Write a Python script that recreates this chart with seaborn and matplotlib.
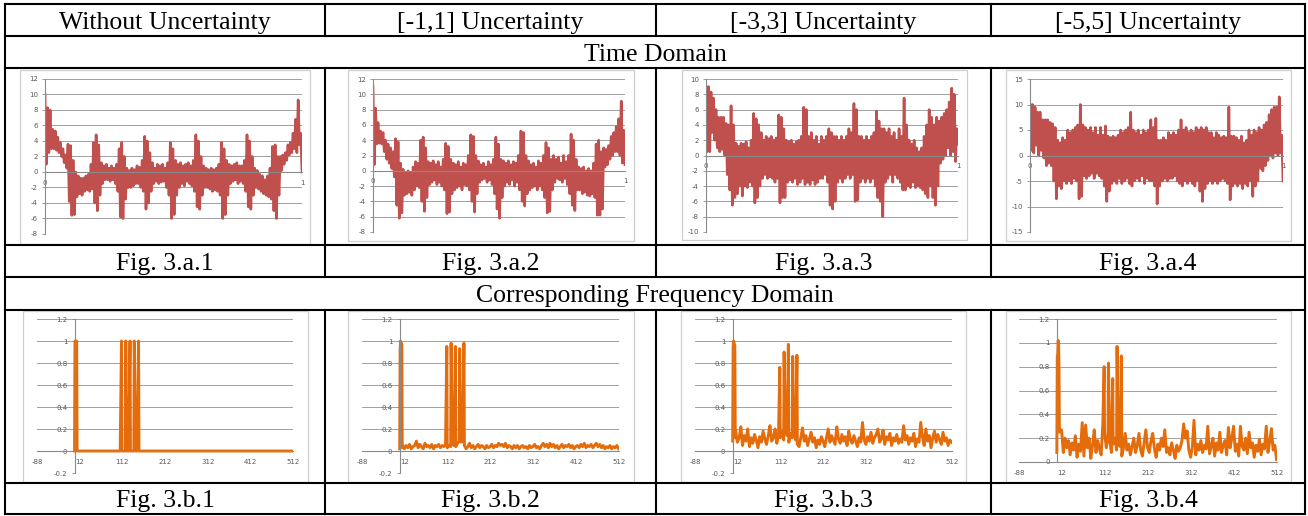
import numpy as np
import pandas as pd
import matplotlib
matplotlib.use("Agg")
import matplotlib.pyplot as plt
import seaborn as sns
from matplotlib.lines import Line2D
from matplotlib.patches import Rectangle

# ---------------------------------------------------------------- text
col_titles = ["Without Uncertainty", "[-1,1] Uncertainty", "[-3,3] Uncertainty", "[-5,5] Uncertainty"]
row_titles = ["Time Domain", "Corresponding Frequency Domain"]
time_captions = ["Fig. 3.a.1", "Fig. 3.a.2", "Fig. 3.a.3", "Fig. 3.a.4"]
freq_captions = ["Fig. 3.b.1", "Fig. 3.b.2", "Fig. 3.b.3", "Fig. 3.b.4"]

# ---------------------------------------------------------------- time domain data
# upper / lower swing of the signal in each 0.01 slot of t = 0 ... 1 (101 slots)
t1_hi = [10.0, 8.3, 8.0, 5.5, 5.3, 4.5, 3.8, 3.0, 2.2, 3.6,
         3.4, 1.5, 0.0, -0.5, -0.8, -0.8, -0.5, -0.3, 1.0, 3.8,
         4.8, 3.5, 1.2, 0.8, 1.0, 0.5, 0.8, 0.5, 1.0, 3.0,
         3.8, 2.0, 0.5, 0.2, 0.5, 0.3, 0.8, 0.6, 1.5, 4.6,
         4.0, 2.5, 1.2, 0.5, 1.0, 0.8, 1.0, 0.5, 1.2, 3.8,
         3.0, 1.5, 1.0, 1.2, 0.8, 1.0, 1.2, 0.8, 1.5, 4.8,
         4.0, 2.0, 0.8, 0.5, 0.3, 0.5, 0.3, 0.5, 1.0, 3.8,
         3.0, 1.5, 1.0, 0.8, 1.0, 1.2, 0.8, 0.8, 1.5, 4.8,
         4.0, 2.0, 0.5, 0.2, -0.3, -0.5, -1.0, -0.5, 0.5, 3.3,
         3.5, 2.0, 2.0, 2.2, 2.5, 3.5, 3.8, 5.0, 6.8, 9.3,
         5.0]
t1_lo = [1.0, 2.5, 3.0, 3.0, 2.8, 2.5, 2.0, 1.2, 0.5, -3.8,
         -5.6, -5.5, -3.2, -2.8, -3.0, -2.5, -2.3, -2.5, -2.2, -4.0,
         -5.0, -3.0, -1.5, -1.0, -1.0, -1.2, -1.0, -1.5, -2.5, -5.8,
         -6.0, -3.5, -2.0, -2.0, -1.8, -1.5, -1.5, -2.0, -2.5, -4.8,
         -4.0, -2.5, -1.5, -1.2, -1.5, -1.3, -1.2, -2.0, -3.0, -6.0,
         -5.5, -3.0, -2.0, -1.5, -1.8, -1.2, -1.5, -1.8, -2.5, -4.5,
         -4.8, -3.0, -2.0, -2.0, -2.2, -2.5, -2.3, -2.5, -3.0, -6.0,
         -5.5, -3.0, -1.5, -1.2, -1.0, -1.5, -1.2, -1.5, -2.5, -4.5,
         -4.8, -3.0, -2.0, -2.2, -2.5, -2.8, -3.0, -3.2, -3.5, -5.0,
         -6.0, -3.0, 0.2, 1.0, 1.5, 2.2, 2.5, 3.0, 2.5, 3.5,
         0.0]

t2_hi = [11.0, 8.2, 6.3, 5.2, 5.0, 4.0, 3.5, 3.0, 2.5, 4.2,
         3.8, 1.0, 0.2, -0.2, 0.0, -0.3, 0.5, 1.2, 1.0, 4.0,
         4.4, 3.0, 1.2, 1.0, 1.3, 0.8, 1.2, 0.5, 1.5, 3.6,
         3.2, 1.5, 1.0, 0.8, 1.2, 0.5, 1.0, 0.8, 2.0, 4.7,
         4.5, 2.0, 1.3, 0.8, 1.0, 0.5, 1.2, 0.8, 1.5, 4.4,
         3.5, 1.5, 1.3, 1.0, 1.3, 0.8, 1.2, 1.0, 2.0, 5.2,
         5.0, 2.0, 1.3, 0.8, 1.0, 0.5, 1.3, 1.0, 2.0, 3.7,
         3.0, 1.5, 2.0, 1.5, 1.8, 1.0, 2.0, 1.2, 2.0, 4.8,
         4.0, 1.5, 0.5, 0.3, 0.5, 0.0, 0.3, 0.0, 1.0, 3.5,
         4.0, 2.5, 3.0, 2.8, 3.3, 4.5, 5.0, 5.8, 6.8, 9.1,
         5.3]
t2_lo = [0.8, 3.5, 3.6, 3.5, 2.5, 1.5, 1.0, 0.3, -0.8, -4.5,
         -6.2, -5.5, -3.2, -3.0, -2.8, -3.2, -2.5, -2.0, -2.2, -4.0,
         -5.3, -3.5, -1.8, -1.5, -1.2, -1.8, -1.5, -2.0, -2.5, -5.6,
         -5.4, -3.0, -2.5, -2.2, -2.0, -2.5, -1.8, -2.0, -2.5, -4.0,
         -5.4, -3.0, -1.5, -1.2, -1.0, -1.5, -1.2, -1.8, -3.0, -5.0,
         -6.2, -3.5, -2.0, -1.5, -1.8, -1.2, -2.0, -1.5, -2.5, -4.0,
         -4.6, -3.0, -2.5, -2.2, -2.0, -2.5, -2.0, -2.5, -3.5, -5.5,
         -5.3, -2.5, -1.5, -1.0, -1.2, -1.5, -1.0, -1.8, -3.0, -4.5,
         -5.2, -2.5, -2.5, -3.0, -2.8, -3.2, -3.3, -3.0, -3.5, -5.8,
         -5.8, -5.0, 0.5, 0.8, 1.5, 2.0, 2.5, 2.5, 2.0, 1.0,
         0.8]

t3_hi = [9.0, 9.0, 8.3, 7.5, 6.0, 5.0, 5.0, 5.0, 4.2, 4.0,
         6.5, 4.0, 1.6, 1.2, 1.6, 1.5, 1.8, 1.0, 2.0, 5.5,
         4.8, 4.0, 3.0, 2.0, 2.5, 2.2, 2.5, 2.0, 2.3, 5.3,
         5.0, 3.5, 2.0, 1.8, 2.0, 1.5, 1.8, 2.0, 2.5, 6.3,
         6.0, 2.5, 3.0, 2.0, 2.5, 1.5, 2.5, 2.0, 2.5, 3.5,
         3.0, 2.5, 2.5, 2.0, 2.5, 2.0, 2.5, 3.5, 3.0, 6.8,
         6.0, 2.5, 2.5, 2.0, 2.5, 2.0, 2.5, 3.0, 5.8, 4.5,
         3.5, 3.5, 3.0, 3.5, 2.5, 3.0, 2.0, 3.5, 2.5, 7.5,
         4.0, 2.0, 1.5, 2.0, 1.0, 0.5, 1.0, 2.5, 4.0, 6.0,
         5.0, 4.0, 5.0, 4.5, 5.0, 5.5, 6.0, 7.0, 8.8, 8.0,
         3.5]
t3_lo = [0.5, 0.5, 3.0, 2.0, 1.0, 0.5, 0.8, 0.0, -2.5, -4.5,
         -6.5, -5.5, -5.0, -4.0, -5.3, -4.0, -4.2, -3.5, -4.0, -6.2,
         -5.5, -4.0, -3.0, -2.5, -3.0, -2.8, -3.0, -3.5, -3.0, -6.2,
         -5.5, -5.5, -3.5, -3.2, -3.5, -3.0, -3.8, -3.5, -3.0, -3.8,
         -3.5, -3.8, -3.2, -3.8, -3.5, -3.0, -3.0, -2.5, -3.5, -6.5,
         -7.0, -6.0, -3.5, -3.0, -3.5, -3.0, -2.5, -3.0, -2.5, -6.0,
         -5.8, -3.5, -3.0, -3.5, -3.0, -3.5, -3.0, -4.0, -5.5, -6.0,
         -8.0, -3.5, -3.0, -2.5, -3.5, -2.5, -3.0, -3.5, -4.5, -4.5,
         -4.0, -4.2, -3.5, -4.2, -4.0, -4.2, -4.5, -5.0, -5.5, -4.0,
         -5.5, -6.5, -4.0, -1.0, -0.5, 0.0, 1.0, 0.0, 0.5, -0.8,
         1.5]

t4_hi = [10.0, 10.0, 9.5, 8.5, 8.5, 7.0, 7.0, 7.0, 6.5, 6.2,
         5.5, 3.0, 2.5, 3.5, 3.0, 5.0, 4.5, 5.0, 5.5, 6.0,
         10.0, 6.0, 5.5, 5.0, 5.5, 4.5, 5.5, 4.0, 5.5, 4.0,
         5.8, 3.8, 3.5, 3.8, 3.5, 4.0, 5.0, 4.5, 5.0, 5.5,
         8.5, 5.0, 4.5, 5.0, 4.0, 5.0, 4.5, 5.0, 7.0, 5.5,
         7.3, 3.0, 3.0, 3.5, 3.0, 4.5, 4.0, 4.5, 4.0, 5.0,
         7.0, 5.0, 5.5, 4.5, 5.0, 4.5, 5.5, 5.0, 5.5, 5.0,
         5.5, 4.5, 4.5, 3.5, 4.5, 4.0, 3.5, 3.8, 3.5, 9.5,
         3.8, 3.8, 3.5, 3.0, 3.8, 2.5, 3.0, 5.0, 4.0, 5.0,
         4.5, 5.5, 5.0, 6.0, 6.5, 8.0, 9.0, 9.5, 9.5, 11.5,
         4.0]
t4_lo = [1.0, 0.5, 2.0, 0.0, 1.0, -0.5, -2.0, -1.5, -2.0, -5.0,
         -8.5, -6.0, -6.5, -5.0, -5.5, -5.0, -5.5, -4.5, -5.0, -8.5,
         -8.0, -4.0, -4.5, -4.0, -3.5, -4.5, -3.5, -4.0, -4.5, -6.0,
         -9.0, -7.0, -5.5, -5.0, -5.5, -4.5, -5.5, -5.0, -4.5, -5.5,
         -6.0, -5.0, -4.5, -5.0, -4.0, -5.5, -4.5, -5.0, -5.0, -6.0,
         -9.5, -6.0, -5.0, -4.5, -5.0, -4.5, -4.5, -4.0, -5.0, -5.5,
         -6.0, -5.0, -5.5, -5.0, -5.5, -6.0, -5.0, -7.0, -9.0, -6.5,
         -5.5, -5.0, -5.5, -5.0, -5.5, -5.0, -4.5, -5.0, -5.5, -8.7,
         -6.0, -5.5, -6.0, -5.5, -6.5, -5.5, -6.0, -5.0, -8.0, -6.0,
         -5.0, -2.5, -3.0, -2.0, -1.0, 0.0, -0.5, 0.5, 0.0, 0.5,
         -5.0]

time_hi = [t1_hi, t2_hi, t3_hi, t4_hi]
time_lo = [t1_lo, t2_lo, t3_lo, t4_lo]
time_xticks = [0, 0.2, 0.4, 0.6, 0.8, 1]
time_xlabels = ["0", "0.2", "0.4", "0.6", "0.8", "1"]
time_yticks = [[-8, -6, -4, -2, 0, 2, 4, 6, 8, 10, 12],
               [-8, -6, -4, -2, 0, 2, 4, 6, 8, 10, 12],
               [-10, -8, -6, -4, -2, 0, 2, 4, 6, 8, 10],
               [-15, -10, -5, 0, 5, 10, 15]]

# ---------------------------------------------------------------- frequency domain data
freq_low_bins = [0, 1, 2, 3, 4, 5, 6]
freq_peak_bins = [110, 120, 130, 140, 150]
freq_floor_bins = np.arange(7, 512, 4)          # 7, 11, ..., 511

f1_low = [0.0, 1.0, 1.0, 1.0, 1.0, 1.0, 0.0]
f2_low = [0.02, 0.92, 1.0, 0.99, 0.98, 0.97, 0.03]
f3_low = [0.09, 0.95, 1.0, 0.99, 0.97, 0.96, 0.12]
f4_low = [0.08, 0.89, 0.9, 1.02, 1.0, 0.8, 0.25]

f1_peaks = [1.0, 1.0, 1.0, 1.0, 1.0]
f2_peaks = [0.95, 0.98, 0.95, 0.93, 0.98]
f3_peaks = [0.76, 0.90, 0.97, 0.86, 0.87]
f4_peaks = [0.80, 0.83, 0.70, 0.97, 0.89]

f1_floor = np.zeros(len(freq_floor_bins))
f2_floor = [0.05, 0.02, 0.05, 0.03, 0.06, 0.02, 0.04, 0.05, 0.09, 0.03,
            0.06, 0.04, 0.02, 0.07, 0.04, 0.05, 0.03, 0.06, 0.02, 0.05,
            0.04, 0.06, 0.03, 0.05, 0.04, 0.06, 0.03, 0.05, 0.04, 0.06,
            0.05, 0.04, 0.07, 0.09, 0.08, 0.09, 0.05, 0.02, 0.04, 0.07,
            0.03, 0.05, 0.02, 0.04, 0.06, 0.03, 0.05, 0.04, 0.02, 0.05,
            0.03, 0.04, 0.06, 0.03, 0.05, 0.04, 0.07, 0.05, 0.06, 0.04,
            0.07, 0.03, 0.05, 0.04, 0.02, 0.05, 0.03, 0.05, 0.02, 0.04,
            0.05, 0.03, 0.04, 0.02, 0.05, 0.03, 0.04, 0.06, 0.03, 0.04,
            0.02, 0.05, 0.07, 0.04, 0.06, 0.03, 0.07, 0.04, 0.06, 0.03,
            0.05, 0.02, 0.04, 0.06, 0.03, 0.05, 0.04, 0.06, 0.03, 0.05,
            0.02, 0.04, 0.05, 0.03, 0.06, 0.04, 0.07, 0.03, 0.05, 0.04,
            0.06, 0.03, 0.05, 0.07, 0.04, 0.06, 0.03, 0.05, 0.02, 0.04,
            0.03, 0.05, 0.02, 0.04, 0.03, 0.05, 0.02]
f3_floor = [0.18, 0.08, 0.12, 0.22, 0.05, 0.14, 0.09, 0.20, 0.04, 0.12,
            0.07, 0.15, 0.10, 0.03, 0.13, 0.08, 0.18, 0.11, 0.06, 0.14,
            0.23, 0.09, 0.12, 0.20, 0.07, 0.15, 0.12, 0.18, 0.10, 0.20,
            0.14, 0.08, 0.16, 0.12, 0.19, 0.10, 0.06, 0.04, 0.12, 0.21,
            0.09, 0.14, 0.05, 0.11, 0.17, 0.08, 0.12, 0.03, 0.10, 0.06,
            0.13, 0.09, 0.04, 0.12, 0.20, 0.08, 0.14, 0.10, 0.06, 0.22,
            0.11, 0.07, 0.15, 0.09, 0.13, 0.05, 0.18, 0.10, 0.07, 0.14,
            0.09, 0.04, 0.12, 0.08, 0.26, 0.10, 0.06, 0.13, 0.09, 0.17,
            0.07, 0.12, 0.15, 0.20, 0.08, 0.11, 0.19, 0.06, 0.13, 0.10,
            0.16, 0.05, 0.12, 0.09, 0.15, 0.07, 0.11, 0.08, 0.23, 0.10,
            0.14, 0.06, 0.12, 0.09, 0.16, 0.04, 0.11, 0.08, 0.26, 0.13,
            0.05, 0.20, 0.09, 0.14, 0.03, 0.12, 0.18, 0.08, 0.15, 0.10,
            0.06, 0.17, 0.09, 0.12, 0.05, 0.10, 0.08]
f4_floor = [0.26, 0.27, 0.08, 0.20, 0.12, 0.18, 0.06, 0.16, 0.10, 0.22,
            0.04, 0.15, 0.09, 0.33, 0.05, 0.31, 0.12, 0.20, 0.03, 0.14,
            0.27, 0.08, 0.18, 0.11, 0.06, 0.32, 0.25, 0.12, 0.22, 0.18,
            0.08, 0.15, 0.20, 0.10, 0.16, 0.13, 0.05, 0.12, 0.24, 0.10,
            0.15, 0.06, 0.13, 0.20, 0.08, 0.14, 0.24, 0.10, 0.05, 0.16,
            0.27, 0.12, 0.08, 0.18, 0.24, 0.11, 0.04, 0.15, 0.10, 0.20,
            0.13, 0.27, 0.08, 0.12, 0.06, 0.16, 0.10, 0.03, 0.14, 0.09,
            0.12, 0.18, 0.32, 0.20, 0.26, 0.10, 0.04, 0.12, 0.35, 0.06,
            0.15, 0.10, 0.18, 0.08, 0.14, 0.11, 0.30, 0.07, 0.13, 0.20,
            0.05, 0.16, 0.10, 0.25, 0.08, 0.14, 0.18, 0.06, 0.29, 0.12,
            0.20, 0.30, 0.09, 0.15, 0.05, 0.30, 0.13, 0.10, 0.20, 0.07,
            0.25, 0.12, 0.16, 0.04, 0.14, 0.09, 0.19, 0.06, 0.15, 0.11,
            0.30, 0.08, 0.17, 0.28, 0.10, 0.14, 0.02]

freq_low = [f1_low, f2_low, f3_low, f4_low]
freq_peaks = [f1_peaks, f2_peaks, f3_peaks, f4_peaks]
freq_floor = [f1_floor, f2_floor, f3_floor, f4_floor]
freq_xticks = [-88, 12, 112, 212, 312, 412, 512]
freq_xlabels = ["-88", "12", "112", "212", "312", "412", "512"]
freq_yticks = [[-0.2, 0, 0.2, 0.4, 0.6, 0.8, 1, 1.2]] * 3 + [[0, 0.2, 0.4, 0.6, 0.8, 1, 1.2]]

# ---------------------------------------------------------------- style / layout
RED = "#C0504D"
ORANGE = "#E46C0A"
GRID = "#a0a0a0"
AXC = "#8a8a8a"
TXT = "#595959"
SERIF = "Liberation Serif"
SANS = "Liberation Sans"

W, H = 1308, 516
fig = plt.figure(figsize=(W / 100, H / 100), dpi=100)
fig.patch.set_facecolor("white")


def rect(x0, x1, yt, yb):
    return [x0 / W, 1 - yb / H, (x1 - x0) / W, (yb - yt) / H]


def fmt(v):
    return "%g" % v


time_rects = [(45, 302, 79, 234), (373, 625, 79, 232), (706, 958, 79, 232), (1030, 1283, 79, 232)]
freq_rects = [(37, 293, 319, 473), (362, 619, 319, 473), (695, 952, 319, 473), (1019, 1277, 319, 462)]
time_boxes = [(20, 70, 310, 244), (348, 70, 634, 241), (682, 70, 967, 240), (1006, 70, 1291, 241)]
freq_boxes = [(23, 311, 308, 482), (348, 311, 634, 482), (681, 311, 966, 482), (1006, 311, 1291, 482)]


def style_axes(ax, xlim, ylim, xticks, xlabels, yticks):
    ax.set_xlim(xlim)
    ax.set_ylim(ylim)
    ax.set_xticks(xticks)
    ax.set_xticklabels(xlabels, fontfamily=SANS)
    ax.set_yticks(yticks)
    ax.set_yticklabels([fmt(v) for v in yticks], fontfamily=SANS)
    ax.set_xlabel("")
    ax.set_ylabel("")
    ax.patch.set_alpha(0)
    for s in ["top", "right"]:
        ax.spines[s].set_visible(False)
    ax.spines["left"].set_position(("data", 0))
    ax.spines["bottom"].set_position(("data", 0))
    for s in ["left", "bottom"]:
        ax.spines[s].set_color(AXC)
        ax.spines[s].set_linewidth(0.8)
    ax.grid(axis="y", color=GRID, lw=0.7)
    ax.grid(axis="x", visible=False)
    ax.set_axisbelow(True)
    ax.tick_params(axis="y", length=2.2, width=0.6, color=AXC, pad=3.0,
                   labelsize=5.0, labelcolor=TXT)
    ax.tick_params(axis="x", length=0, pad=5.5, labelsize=5.0, labelcolor=TXT)


# time-domain charts
for i in range(4):
    hi = np.asarray(time_hi[i])
    lo = np.asarray(time_lo[i])
    vals = np.column_stack([hi, lo]).ravel()
    df = pd.DataFrame({"t": np.linspace(0, 1, len(vals)), "v": vals})
    ax = fig.add_axes(rect(*time_rects[i]))
    sns.lineplot(data=df, x="t", y="v", ax=ax, color=RED, lw=1.9,
                 estimator=None, sort=False)
    yt = time_yticks[i]
    style_axes(ax, (0, 1), (yt[0], yt[-1]), time_xticks, time_xlabels, yt)

# frequency-domain charts
for i in range(4):
    x = np.concatenate([freq_low_bins, freq_peak_bins, freq_floor_bins])
    y = np.concatenate([freq_low[i], freq_peaks[i], freq_floor[i]])
    order = np.argsort(x, kind="stable")
    df = pd.DataFrame({"bin": x[order], "mag": y[order]})
    ax = fig.add_axes(rect(*freq_rects[i]))
    sns.lineplot(data=df, x="bin", y="mag", ax=ax, color=ORANGE, lw=2.1,
                 estimator=None, sort=False)
    yt = freq_yticks[i]
    style_axes(ax, (-88, 512), (yt[0], yt[-1]), freq_xticks, freq_xlabels, yt)

# chart frames
for (x0, y0, x1, y1) in time_boxes + freq_boxes:
    fig.add_artist(Rectangle((x0 / W, 1 - y1 / H), (x1 - x0) / W, (y1 - y0) / H,
                             transform=fig.transFigure, fill=False,
                             edgecolor="#cfcfcf", lw=0.9))

# table lines
LEFT, RIGHT, TOP, BOT = 5, 1305, 4, 514
for yy in [4, 36, 68, 245, 277, 310, 483, 514]:
    fig.add_artist(Line2D([LEFT / W, RIGHT / W], [1 - yy / H, 1 - yy / H],
                          transform=fig.transFigure, color="black", lw=1.5))
for xx in [LEFT, RIGHT]:
    fig.add_artist(Line2D([xx / W, xx / W], [1 - TOP / H, 1 - BOT / H],
                          transform=fig.transFigure, color="black", lw=1.5))
for xx in [325, 656, 991]:
    for (ya, yb) in [(4, 36), (68, 277), (310, 514)]:
        fig.add_artist(Line2D([xx / W, xx / W], [1 - ya / H, 1 - yb / H],
                              transform=fig.transFigure, color="black", lw=1.5))

# table texts
col_edges = [LEFT, 325, 656, 991, RIGHT]
centers = [(col_edges[k] + col_edges[k + 1]) / 2 for k in range(4)]
FS = 18.5
for k in range(4):
    fig.text(centers[k] / W, 1 - 29 / H, col_titles[k], ha="center", va="baseline",
             fontsize=FS, fontfamily=SERIF)
    fig.text(centers[k] / W, 1 - 270 / H, time_captions[k], ha="center", va="baseline",
             fontsize=FS, fontfamily=SERIF)
    fig.text(centers[k] / W, 1 - 507 / H, freq_captions[k], ha="center", va="baseline",
             fontsize=FS, fontfamily=SERIF)
mid = (LEFT + RIGHT) / 2
fig.text(mid / W, 1 - 61 / H, row_titles[0], ha="center", va="baseline",
         fontsize=FS, fontfamily=SERIF)
fig.text(mid / W, 1 - 302 / H, row_titles[1], ha="center", va="baseline",
         fontsize=FS, fontfamily=SERIF)

fig.savefig("out.png", dpi=100, facecolor="white")
